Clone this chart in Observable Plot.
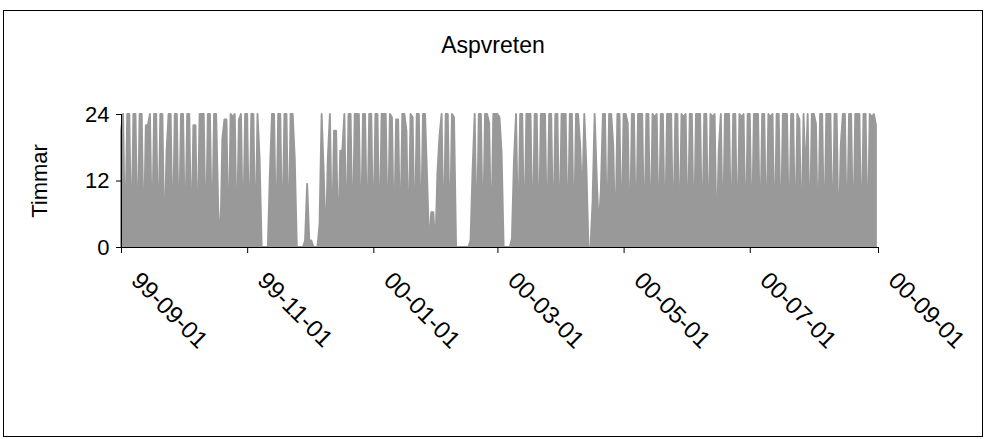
<!DOCTYPE html>
<html>
<head>
<meta charset="utf-8">
<script src="https://cdn.jsdelivr.net/npm/d3@7"></script>
<script src="https://cdn.jsdelivr.net/npm/@observablehq/plot@0.6"></script>
<style>
  html, body { margin: 0; padding: 0; background: #fff; }
  #wrap { position: relative; width: 986px; height: 439px; font-family: "Liberation Sans", Arial, sans-serif; }
  #border { position: absolute; left: 3px; top: 10px; width: 980px; height: 427px; border: 1px solid #000; box-sizing: border-box; pointer-events: none; }
  #title { position: absolute; left: 0; top: 32px; width: 986px; text-align: center; font-size: 23px; color: #000; }
  #chart { position: absolute; left: 0; top: 0; }
</style>
</head>
<body>
<div id="wrap">
  <div id="chart"></div>
  <div id="border"></div>
  <div id="title">Aspvreten</div>
</div>
<script>
// Daily hours (Timmar) per month, starting 1999-09-01
const startDate = "1999-09-01";
const endDate = "2000-09-01";
const sep99 = [21,24,0,24,24,0,24,24,0,24,24,0,22,22,24,0,24,24,0,24,24,0,17,24,24,0,24,24,0,24];
const oct99 = [24,0,24,24,0,22,22,0,24,24,24,0,24,24,0,24,24,7,0,19.5,23,23,0,24,23.5,24,0,23,24,0,24];
const nov99 = [24,0,24,24,0,24,16,0,0,0,0,13.5,24,24,0,24,24,0,24,24,0,24,24,16,0,0,0,0,1.2,11.4];
const dec99 = [1.2,1.2,0,0,0,4.2,24,13.5,0,16,24,0,21,21,0,17.4,17.4,24,0,24,24,0,24,24,24,0,24,24,0,24,24];
const jan00 = [0,24,24,0,24,24,24,0,24,23.4,0,23,23,0,24,24,21,0,24,23.4,0,24,24,0,24,24,12.3,0,6.3,6.3,0];
const feb00 = [13.5,20,24,0,24,24,0,24,23.4,0,0,0,0,0,0,0,1.2,14,24,0,24,24,0,24,24,22.4,0,24,24];
const mar00 = [24,23.4,17,0,0,0,0,1.5,15.6,24,0,24,24,0,24,24,24,0,24,24,0,24,24,24,0,24,24,0,24,24,0];
const apr00 = [24,24,24,0,24,24,0,24,24,18.3,7.5,24,14.4,0,0,8.1,24,12.6,3.3,10.2,24,24,0,24,24,18.3,0,24,24,0];
const may00 = [24,24,22.4,0,24,24,0,24,24,24,0,24,24,0,24,23.4,24,0,24,24,0,24,24,24,0,24,24,0,24,23.4,24];
const jun00 = [0,24,24,0,24,24,24,0,24,24,0,24,23.4,24,0,17.4,24,0,24,24,24,0,24,24,0,24,23.4,24,0,24];
const jul00 = [24,0,24,24,24,0,24,24,0,24,23.4,24,0,24,24,0,24,24,24,0,24,24,0,24,23,0,24,12.3,24,0,24];
const aug00 = [24,22.2,0,24,24,0,24,24,24,0,24,24,0,18.3,24,24,0,24,24,0,24,24,24,0,24,24,0,24,23.4,24,22];
const yTicks = [0, 12, 24];
const xTickLabels = ["99-09-01","99-11-01","00-01-01","00-03-01","00-05-01","00-07-01","00-09-01"];
const yLabel = "Timmar";

const parseTick = d3.utcParse("%y-%m-%d");
const fmtTick = d3.utcFormat("%y-%m-%d");
const xTicks = xTickLabels.map(parseTick);
const hours = [].concat(sep99, oct99, nov99, dec99, jan00, feb00, mar00, apr00, may00, jun00, jul00, aug00);
const t0 = d3.utcParse("%Y-%m-%d")(startDate);
const data = hours.map((h, i) => ({date: d3.utcDay.offset(t0, i), hours: h}));

const plot = Plot.plot({
  width: 986,
  height: 439,
  marginLeft: 121,
  marginRight: 108,
  marginTop: 114,
  marginBottom: 192,
  style: {fontFamily: "Liberation Sans, Arial, sans-serif", fontSize: "22px", background: "transparent", color: "#000"},
  x: {type: "utc", domain: [t0, d3.utcParse("%Y-%m-%d")(endDate)]},
  y: {domain: [0, 24]},
  marks: [
    Plot.areaY(data, {x: "date", y: "hours", fill: "#999999", stroke: "#999999", strokeWidth: 1.9, strokeLinejoin: "round", curve: "linear"}),
    Plot.ruleY([0], {stroke: "#000", strokeWidth: 1}),
    Plot.ruleX([t0], {stroke: "#000", strokeWidth: 1}),
    Plot.axisY({ticks: yTicks, tickSize: 5, tickPadding: 7, label: null, fontSize: 22}),
    Plot.axisX({ticks: xTicks, tickSize: 6, tickFormat: () => "", label: null}),
    Plot.text(xTicks, {x: d => d, frameAnchor: "bottom", text: d => fmtTick(d), rotate: 45, textAnchor: "start", lineAnchor: "middle", dx: 14, dy: 29, fontSize: 24}),
    Plot.text([yLabel], {frameAnchor: "left", dx: -82, rotate: -90, textAnchor: "middle", lineAnchor: "middle", fontSize: 22})
  ]
});
document.getElementById("chart").appendChild(plot);
</script>
</body>
</html>
